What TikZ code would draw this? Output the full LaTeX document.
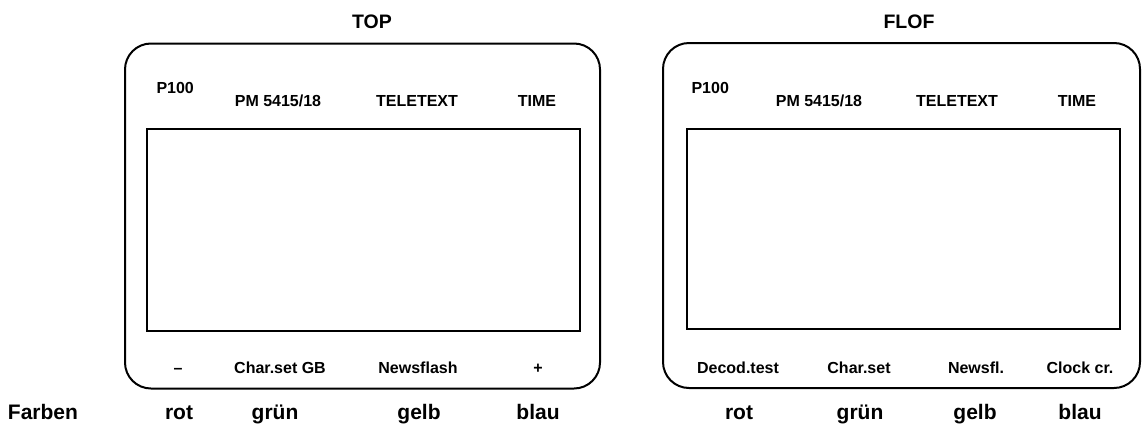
\documentclass[tikz,border=0pt]{standalone}
\usepackage{fontspec}
\setmainfont{Liberation Sans}
\usepackage{tikz}
\usetikzlibrary{positioning}
\tikzset{
  panel/.style={draw=black, line width=2pt, rounded corners=26pt, inner sep=0pt,
    minimum width=#1, minimum height=345pt}}

\begin{document}
\begin{tikzpicture}[x=1pt, y=-1pt,
      ttl/.style={font=\fontsize{19.5}{22}\selectfont\bfseries, anchor=base},
      key/.style={font=\fontsize{16}{18}\selectfont\bfseries, anchor=base},
      farbe/.style={font=\fontsize{21}{24}\selectfont\bfseries, anchor=base},
      scr/.style={draw=black, line width=1.6pt, inner sep=0pt,
        minimum width=433pt, minimum height=#1}]
      \useasboundingbox (0,0) rectangle (1142,426);
      \node[panel=475pt] (toppanel) at (362.5,216) {};
      \node[panel=477pt] (flofpanel) at (901.5,215.5) {};
      \node[scr=202pt] (topscr) at (363.5,230) {};
      \node[scr=200pt] (flofscr) at (903.5,229) {};
      \node[ttl] (toptitle) at (372,28) {TOP};
      \node[ttl] (floftitle) at (909,28) {FLOF};
      \node[key, anchor=base west] (toppage) at (153,93) {P100};
      \node[key] (topchip) at (278,106) {PM 5415/18};
      \node[key] (toptxt) at (417,106) {TELETEXT};
      \node[key] (toptime) at (537,106) {TIME};
      \node[key, anchor=base west] (flofpage) at (688,93) {P100};
      \node[key] (flofchip) at (819,106) {PM 5415/18};
      \node[key] (floftxt) at (957,106) {TELETEXT};
      \node[key] (floftime) at (1077,106) {TIME};
      \node[key] (topred) at (178,373) {–};
      \node[key] (topgreen) at (280,373) {Char.set GB};
      \node[key] (topyellow) at (418,373) {Newsflash};
      \node[key] (topblue) at (538,373) {+};
      \node[key] (flofred) at (738,373) {Decod.test};
      \node[key] (flofgreen) at (859,373) {Char.set};
      \node[key] (flofyellow) at (976,373) {Newsfl.};
      \node[key] (flofblue) at (1080,373) {Clock cr.};
      \node[farbe] (farben) at (43,419) {Farben};
      \node[farbe] (rot1) at (179,419) {rot};
      \node[farbe] (gruen1) at (275,419) {grün};
      \node[farbe] (gelb1) at (419,419) {gelb};
      \node[farbe] (blau1) at (538,419) {blau};
      \node[farbe] (rot2) at (739,419) {rot};
      \node[farbe] (gruen2) at (860,419) {grün};
      \node[farbe] (gelb2) at (975,419) {gelb};
      \node[farbe] (blau2) at (1080,419) {blau};
    \end{tikzpicture}
\end{document}
